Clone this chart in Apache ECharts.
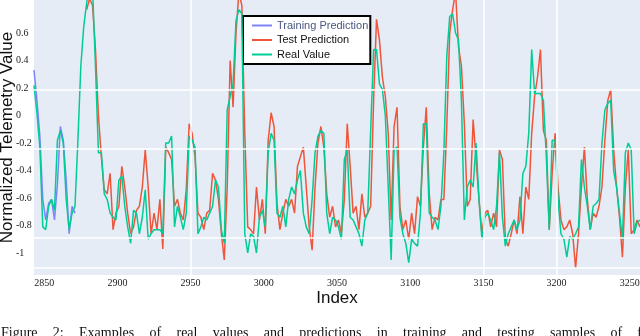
<!DOCTYPE html>
<html>
<head>
<meta charset="utf-8">
<script src="https://cdn.jsdelivr.net/npm/echarts@6/dist/echarts.min.js"></script>
<style>
html,body{margin:0;padding:0;background:#fff;}
#chart{width:640px;height:336px;}
</style>
</head>
<body>
<div id="chart"></div>
<script>
// tick labels
var xTicks = [2850, 2900, 2950, 3000, 3050, 3100, 3150, 3200, 3250];
var yTicks = [0.6, 0.4, 0.2, 0, -0.2, -0.4, -0.6, -0.8, -1];
// white grid lines seen in the plot
var gridX = [2950, 3150, 3200];
var gridY = [0.19, -0.24, -0.89, -1.11];

// values read every 2 index steps
var step = 2;
var trainStart = 2843;
var trainValues = [0.33, 0.11, -0.15, -0.61, -0.76, -0.64, -0.61, -0.76, -0.5, -0.08, -0.18, -0.47, -0.86, -0.66, -0.71];

var testStart = 2879;
var testValues = [
    0.77, 0.85, 0.8, 0.48, 0.0, -0.3, -0.54, -0.57, -0.42, -0.83,
    -0.71, -0.66, -0.37, -0.52, -0.71, -0.86, -0.81, -0.69, -0.66, -0.52,
    -0.25, -0.52, -0.86, -0.71,
    -0.83, -0.61, -0.97, -0.23, -0.27, -0.32, -0.66, -0.61, -0.71, -0.76,
    -0.54, -0.06, -0.13, -0.3, -0.71, -0.74, -0.83, -0.71, -0.69, -0.42,
    -0.47, -0.61, -0.86, -1.05, -0.52, 0.4, 0.06, 0.6, 0.9, 0.8,
    -0.13, -0.81, -0.83, -0.86, -0.52, -0.76, -0.61, -0.86, -0.18, 0.02,
    -0.08, -0.64,
    -0.83, -0.71, -0.61, -0.66, -0.61, -0.71, -0.37, -0.3, -0.23, -0.52,
    -0.81, -0.98, -0.52, -0.2, -0.08, -0.23, -0.57, -0.74, -0.66, -0.81,
    -0.76, -0.86, -0.61, -0.06, -0.37, -0.71, -0.66, -0.83, -0.57, -0.74,
    -0.71, -0.66, 0.11, 0.7, 0.55, 0.28, 0.14, -0.13, -0.76, -0.08,
    0.06,
    -0.66, -0.83, -0.76, -0.9, -0.71, -0.86, -0.59, -0.66, -0.23, 0.06,
    -0.57, -0.83, -0.74, -0.76, -0.61, -0.61, -0.08, 0.6, 0.77, 0.9,
    0.5, 0.36, -0.06, -0.66, -0.61, -0.03, -0.32, -0.61, -0.86, -0.71,
    -0.69, -0.81, -0.71, -0.81, -0.25, -0.32, -0.9, -0.95, -0.86, -0.76,
    -0.86, -0.59,
    -0.86, -0.52, -0.61, -0.13, 0.14, 0.28, 0.48, -0.11, -0.18, -0.83,
    -0.42, -0.13, -0.52, -0.76, -0.83, -0.81, -0.76, -0.86, -1.11, -0.86,
    -0.52, -0.23, -0.61, -0.83, -0.71, -0.74, -0.66, -0.52, -0.18, 0.11,
    0.19, -0.25, -0.52, -0.74, -1.03, -0.52, -0.25, -0.86, -0.83, -0.76,
    -0.81
];

var realStart = 2843;
var realValues = [
    0.22, 0.02, -0.23, -0.81, -0.83, -0.66, -0.61, -0.69, -0.18, -0.11,
    -0.2, -0.61, -0.83, -0.71, -0.66, -0.18, 0.36, 0.65, 0.82, 0.95,
    0.92, 0.36, -0.27, -0.27, -0.57, -0.61, -0.71, -0.74, -0.76, -0.47,
    -0.44, -0.66, -0.81, -0.93, -0.69, -0.71, -0.86, -0.74, -0.54, -0.9,
    -0.86, -0.83,
    -0.83, -0.83, -0.86, -0.2, -0.2, -0.15, -0.81, -0.66, -0.74, -0.83,
    -0.71, -0.15, -0.18, -0.23, -0.86, -0.81, -0.74, -0.76, -0.71, -0.66,
    -0.47, -0.52, -0.83, -0.93, 0.04, 0.14, 0.23, 0.69, 0.77, 0.74,
    -0.86, -1.0, -0.86, -0.88, -1.0, -0.74, -0.69, -0.81, -0.27, -0.13,
    -0.18, -0.71,
    -0.74, -0.66, -0.81, -0.61, -0.52, -0.57, -0.47, -0.4, -0.71, -0.81,
    -0.86, -0.61, -0.27, -0.15, -0.11, -0.13, -0.71, -0.86, -0.74, -0.76,
    -0.81, -0.9, -0.32, -0.25, -0.74, -0.76, -0.81, -0.86, -0.95, -0.76,
    -0.71, -0.11, 0.48, 0.48, 0.23, 0.19, 0.0, -0.52, -1.05, -0.25,
    -0.23,
    -0.74, -0.86, -0.93, -1.07, -0.9, -0.93, -0.95, -0.71, -0.06, -0.06,
    -0.71, -0.74, -0.76, -0.83, -0.66, -0.27, 0.43, 0.72, 0.74, 0.6,
    0.55, 0.11, -0.76, -0.52, -0.47, -0.52, -0.2, -0.61, -0.9, -0.74,
    -0.71, -0.76, -0.83, -0.66, -0.27, -0.74, -0.95, -0.86, -0.81, -0.76,
    -0.83, -0.76,
    -0.42, -0.37, -0.13, 0.48, 0.16, 0.16, 0.16, 0.11, -0.3, -0.83,
    -0.18, -0.18, -0.61, -0.86, -0.9, -1.03, -0.88, -0.9, -0.86, -0.81,
    -0.32, -0.52, -0.66, -0.83, -0.66, -0.64, -0.61, -0.2, 0.04, 0.09,
    0.11, -0.4, -0.52, -0.71, -0.9, -0.27, -0.2, -0.25, -0.86, -0.78,
    -0.76
];

var caption = 'Figure 2: Examples of real values and predictions in training and testing samples of f';

function toPairs(start, values){
    var out = [];
    for(var i = 0; i < values.length; i++){
        out.push([start + i*step, values[i]]);
    }
    return out;
}

var gridLines = [];
for(var a = 0; a < gridX.length; a++){ gridLines.push({xAxis: gridX[a]}); }
for(var b = 0; b < gridY.length; b++){ gridLines.push({yAxis: gridY[b]}); }

// caption is justified across the full width, so lay out word by word
var capFont = '14px "Liberation Serif"';
var ctx = document.createElement('canvas').getContext('2d');
ctx.font = capFont;
var words = caption.split(' ');
var wordsW = 0;
for(var w = 0; w < words.length; w++){ wordsW += ctx.measureText(words[w]).width; }
var gap = (641 - wordsW) / (words.length - 1);
var capGraphics = [];
var cx = 1;
for(var k = 0; k < words.length; k++){
    capGraphics.push({type: 'text', x: cx, y: 326, silent: true,
        style: {text: words[k], fontFamily: 'Liberation Serif', fontSize: 14, fill: '#111'}});
    cx += ctx.measureText(words[k]).width + gap;
}

var chart = echarts.init(document.getElementById('chart'));

var option = {
    animation: false,
    backgroundColor: '#fff',
    grid: {left: 34, right: 0, top: 0, bottom: 61, show: true, backgroundColor: '#e5ecf6', borderWidth: 0,
        containLabel: false, outerBoundsMode: 'none'},
    legend: {
        orient: 'vertical',
        left: 243, top: 16,
        padding: [4, 2, 4, 9],
        itemGap: 3.5,
        itemWidth: 20, itemHeight: 2,
        icon: 'rect',
        backgroundColor: '#fff',
        borderColor: '#000', borderWidth: 2, borderRadius: 0,
        textStyle: {fontFamily: 'Liberation Sans', fontSize: 11, color: '#111'},
        data: [
            {name: 'Training Prediction', textStyle: {color: '#4a5683'}},
            'Test Prediction', 'Real Value'
        ]
    },
    xAxis: {
        type: 'value', min: 2843, max: 3257,
        name: 'Index', nameLocation: 'middle', nameGap: 15, nameMoveOverlap: false,
        nameTextStyle: {fontFamily: 'Liberation Sans', fontSize: 17, color: '#111'},
        axisLine: {show: false}, axisTick: {show: false}, splitLine: {show: false},
        axisLabel: {customValues: xTicks, margin: 3, fontFamily: 'Liberation Serif', fontSize: 10, color: '#222',
            formatter: function(v){ return String(v); }}
    },
    yAxis: {
        type: 'value', min: -1.16, max: 0.84,
        name: 'Normalized Telemetry Value', nameLocation: 'middle', nameGap: 18, nameMoveOverlap: false,
        nameTextStyle: {fontFamily: 'Liberation Sans', fontSize: 17, color: '#111'},
        axisLine: {show: false}, axisTick: {show: false}, splitLine: {show: false},
        axisLabel: {customValues: yTicks, align: 'left', margin: 18, fontFamily: 'Liberation Serif', fontSize: 10, color: '#222'}
    },
    series: [
        {
            type: 'line', name: 'grid', data: [], z: 1, silent: true,
            markLine: {silent: true, symbol: 'none', label: {show: false},
                lineStyle: {color: '#fff', width: 1.5, type: 'solid'}, data: gridLines}
        },
        {type: 'line', name: 'Training Prediction', data: toPairs(trainStart, trainValues), symbol: 'none', z: 2,
            lineStyle: {width: 1.5, color: '#7c84f8'}, itemStyle: {color: '#7c84f8'}},
        {type: 'line', name: 'Test Prediction', data: toPairs(testStart, testValues), symbol: 'none', z: 3,
            lineStyle: {width: 1.5, color: '#ef553b'}, itemStyle: {color: '#ef553b'}},
        {type: 'line', name: 'Real Value', data: toPairs(realStart, realValues), symbol: 'none', z: 4,
            lineStyle: {width: 1.5, color: '#00cc96'}, itemStyle: {color: '#00cc96'}}
    ],
    graphic: capGraphics
};

chart.setOption(option);
</script>
</body>
</html>
